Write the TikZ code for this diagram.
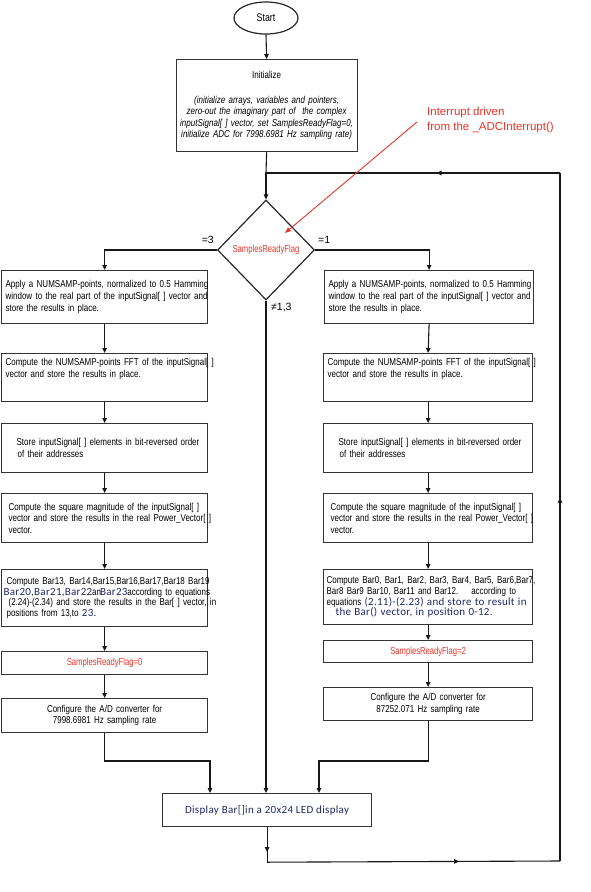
\documentclass[tikz,border=0pt]{standalone}
\usepackage{fontspec}
\setmainfont{Liberation Sans}
\newfontfamily\nar{Liberation Sans}[FakeStretch=0.8]
\newfontfamily\narr{Liberation Sans}[FakeStretch=0.75]
\newfontfamily\calib{Carlito}[LetterSpace=2.5]
\newfontfamily\calibd{Carlito}[LetterSpace=3]
\usetikzlibrary{shapes.geometric,arrows.meta,decorations.markings,calc}
\definecolor{fred}{RGB}{232,52,40}
\definecolor{navy}{RGB}{30,40,105}
\newcommand\cb[1]{{\calib\fontsize{11}{11}\selectfont\color{navy}#1}}
\begin{document}
\begin{tikzpicture}[x=1pt,y=-1pt,
  box/.style={draw=black!80, line width=1.2pt, anchor=north west, inner xsep=4pt, inner ysep=0pt,
    align=left, font=\nar\fontsize{10}{11.5}\selectfont},
  lbox/.style={box, text width=198pt},
  rbox/.style={box, text width=201pt},
  redbox/.style={box, align=center, text=fred, font=\narr\fontsize{10.2}{11}\selectfont},
  lbl/.style={inner sep=0pt, font=\fontsize{10.5}{12}\selectfont},
  arr/.style={-{Triangle[length=5pt,width=4.5pt]}, line width=1.1pt, draw=black!90},
  line/.style={line width=1.1pt, draw=black!90},
  midarr/.style={line, postaction={decorate}, decoration={markings, mark=at position #1 with {\arrow{Triangle[length=5pt,width=4.5pt]}}}}
]
\useasboundingbox (0,0) rectangle (590,892);

% start and init
\node[ellipse, draw=black!85, line width=1.2pt, minimum width=64pt, minimum height=32pt, inner sep=0pt,
  font=\nar\fontsize{11}{12}\selectfont] (start) at (266,18) {Start};
\node[box, text width=173pt, align=center, minimum height=92pt] (init) at (175.5,59)
  {Initialize\\[13pt]{\itshape (initialize arrays, variables and pointers,\\zero-out the imaginary part of\ \ the complex\\inputSignal[ ] vector, set SamplesReadyFlag=0,\\initialize ADC for 7998.6981 Hz sampling rate)}};

% interrupt note
\node[anchor=north west, inner sep=0pt, align=left, text=fred, font=\fontsize{11.5}{15}\selectfont] (intr) at (427,106.5)
  {Interrupt driven\\from the \_ADCInterrupt()};

% decision
\node[diamond, draw=black!85, line width=1.2pt, minimum width=97pt, minimum height=100pt, inner sep=0pt,
  text=fred, font=\narr\fontsize{10.2}{11}\selectfont] (dia) at (266,250) {SamplesReadyFlag};
\node[lbl, anchor=east] (l3) at (214,240) {=3};
\node[lbl, anchor=west] (l1) at (318,240) {=1};
\node[lbl, anchor=west] (lne) at (271,307) {≠1,3};

% left column
\node[lbox, minimum height=53pt, font=\nar\fontsize{10}{12}\selectfont] (L1) at (1,270)
  {\mbox{Apply a NUMSAMP-points, normalized to 0.5 Hamming}\\\mbox{window to the real part of the inputSignal[ ] vector and}\\store the results in place.};
\node[lbox, minimum height=48pt] (L2) at (1,353)
  {\parbox[c][40pt][t]{198pt}{\vspace{1pt}\mbox{Compute the NUMSAMP-points FFT of the inputSignal[ ]}\\vector and store the results in place.}};
\node[lbox, minimum height=49pt] (L3) at (1,423)
  {\hspace*{11pt}Store inputSignal[ ] elements in bit-reversed order\\\hspace*{12pt}of their addresses};
\node[lbox, minimum height=49pt] (L4) at (1,493)
  {\hspace*{3pt}\mbox{Compute the square magnitude of the inputSignal[ ]}\\\hspace*{3pt}\mbox{vector and store the results in the real Power\_Vector[ ]}\\\hspace*{3pt}vector.};
\node[lbox, minimum height=57pt, font=\nar\fontsize{10}{10.8}\selectfont] (L5) at (1,569)
  {\hspace*{1pt}\mbox{Compute Bar13, Bar14,Bar15,Bar16,Bar17,Bar18 Bar19}\\
   \hspace*{-2pt}\mbox{\cb{Bar20,Bar21,Bar22}an\hspace{-1pt}\cb{Bar23}according to equations}\\
   \hspace*{3pt}\mbox{(2.24)-(2.34) and store the results in the Bar[ ] vector, in}\\
   \hspace*{1pt}positions from 13,to \cb{23.}};
\node[redbox, minimum width=206pt, minimum height=23pt] (L6) at (1,651) {SamplesReadyFlag=0};
\node[lbox, align=center, minimum height=34pt] (L7) at (1,698)
  {Configure the A/D converter for\\7998.6981 Hz sampling rate};

% right column
\node[rbox, minimum height=53pt, font=\nar\fontsize{10}{12}\selectfont] (R1) at (324,270)
  {\mbox{Apply a NUMSAMP-points, normalized to 0.5 Hamming}\\\mbox{window to the real part of the inputSignal[ ] vector and}\\store the results in place.};
\node[rbox, minimum height=48pt] (R2) at (323,353)
  {\parbox[c][40pt][t]{201pt}{\vspace{1pt}\mbox{Compute the NUMSAMP-points FFT of the inputSignal[ ]}\\vector and store the results in place.}};
\node[rbox, minimum height=49pt] (R3) at (323,423)
  {\hspace*{11pt}Store inputSignal[ ] elements in bit-reversed order\\\hspace*{12pt}of their addresses};
\node[rbox, minimum height=49pt] (R4) at (323,493)
  {\hspace*{3pt}\mbox{Compute the square magnitude of the inputSignal[ ]}\\\hspace*{3pt}\mbox{vector and store the results in the real Power\_Vector[ ]}\\\hspace*{3pt}vector.};
\node[rbox, minimum height=55pt, font=\nar\fontsize{10}{10.8}\selectfont] (R5) at (323,569)
  {\hspace*{-1pt}\mbox{Compute Bar0, Bar1, Bar2, Bar3, Bar4, Bar5, Bar6,Bar7,}\\
   \hspace*{-1pt}\mbox{Bar8 Bar9 Bar10, Bar11 and Bar12.\hspace{8pt} according to}\\
   \hspace*{-1pt}\mbox{equations \cb{(2.11)-(2.23) and store to result in}}\\
   \hspace*{8pt}\mbox{\cb{the Bar() vector, in position 0-12.}}};
\node[redbox, minimum width=209pt, minimum height=22pt] (R6) at (323,640) {SamplesReadyFlag=2};
\node[rbox, align=center, minimum height=33pt] (R7) at (323,687)
  {Configure the A/D converter for\\87252.071 Hz sampling rate};

% display
\node[box, align=center, minimum width=209pt, minimum height=33pt, font=\calibd\fontsize{11}{13}\selectfont, text=navy] (disp) at (162,793)
  {Display Bar[]in a 20x24 LED display};

% coordinates
\coordinate (ja) at (266,173);
\coordinate (la) at ($(disp.south)+(0,35)$);
\coordinate (lb) at (560,861);
\coordinate (lc) at (560,173);
\coordinate (jl) at (210,761);
\coordinate (jr) at (319,761);
\coordinate (rs) at (417,122);
\coordinate (rt) at (285,233);

% connectors
\draw[arr] (start.south) -- (init.north);
\draw[line] (init.south) -- (ja);
\draw[arr] (ja) -- (dia.north);
\draw[arr] (dia.west) -| (L1.north);
\draw[arr] (dia.east) -| (R1.north);
\draw[arr] (L1.south) -- (L2.north);
\draw[arr] (L2.south) -- (L3.north);
\draw[arr] (L3.south) -- (L4.north);
\draw[arr] (L4.south) -- (L5.north);
\draw[arr] (L5.south) -- (L6.north);
\draw[arr] (L6.south) -- (L7.north);
\draw[arr] (R1.south) -- (R2.north);
\draw[arr] (R2.south) -- (R3.north);
\draw[arr] (R3.south) -- (R4.north);
\draw[arr] (R4.south) -- (R5.north);
\draw[arr] (R5.south) -- (R6.north);
\draw[arr] (R6.south) -- (R7.north);
\draw[arr] (L7.south) |- (jl) -- (jl |- disp.north);
\draw[arr] (R7.south) |- (jr) -- (jr |- disp.north);
\draw[arr] (dia.south) -- (dia.south |- disp.north);
\draw[midarr=0.71] (disp.south) -- (la);
\draw[midarr=0.656] (la) -- (lb);
\draw[midarr=0.528] (lb) -- (lc);
\draw[midarr=0.42] (lc) -- (ja);
\draw[fred, line width=0.9pt, -{Triangle[length=6pt,width=4.5pt]}] (rs) -- (rt);
\end{tikzpicture}
\end{document}
